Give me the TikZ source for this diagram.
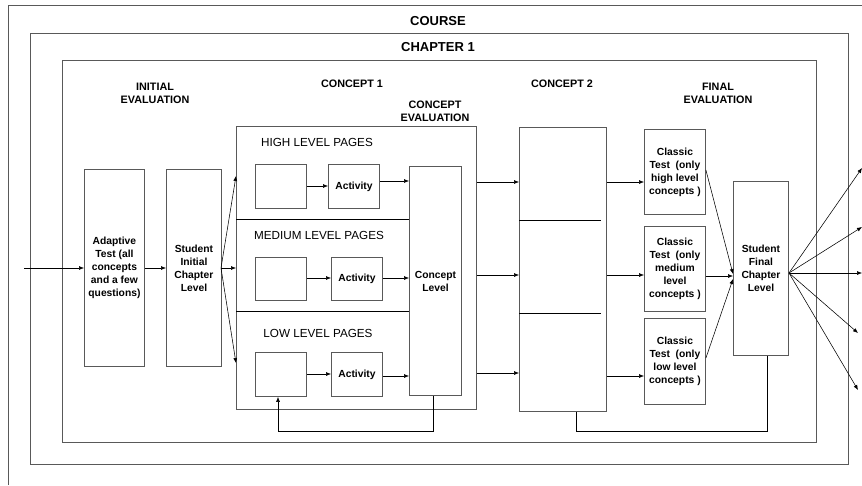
\documentclass[tikz,border=0pt]{standalone}
\usepackage{fontspec}
\setmainfont{Liberation Sans}
\usetikzlibrary{arrows.meta}
\tikzset{
  frame/.style={draw=black!65, line width=0.9pt},
  box/.style={frame, anchor=north west, inner sep=0pt, align=center,
    font=\fontsize{10.3}{13}\selectfont\bfseries},
  head/.style={font=\fontsize{10.8}{13}\selectfont\bfseries, align=center},
  big/.style={font=\fontsize{13}{14}\selectfont\bfseries},
  pages/.style={font=\fontsize{11.7}{14}\selectfont},
  arr/.style={draw=black, line width=0.55pt, -{Latex[length=5pt,width=4pt]}},
  ln/.style={draw=black, line width=0.6pt},
}
\begin{document}
\begin{tikzpicture}[x=1pt,y=-1pt]
\useasboundingbox (0,0) rectangle (862,485);
% course frame (clipped)
\draw[frame] (8,485) -- (8,5) -- (862,5);
\node[big] (course) at (438,21) {COURSE};
% chapter frame
\node[frame, anchor=north west, minimum width=818pt, minimum height=431pt, inner sep=0pt] (chapter) at (30,33) {};
\node[big] (ch1) at (438,47) {CHAPTER 1};
\node[frame, anchor=north west, minimum width=754pt, minimum height=382pt, inner sep=0pt] (inner) at (62,60) {};
% headings
\node[head] (hinit) at (155,93) {INITIAL\\EVALUATION};
\node[head] (hc1) at (352,84) {CONCEPT 1};
\node[head] (hce) at (435,111) {CONCEPT\\EVALUATION};
\node[head] (hc2) at (562,84) {CONCEPT 2};
\node[head] (hfin) at (718,93) {FINAL\\EVALUATION};
% initial evaluation
\node[box, minimum width=60pt, minimum height=197pt] (adapt) at (84,169) {Adaptive\\Test (all\\concepts\\and a few\\questions)};
\node[box, minimum width=55pt, minimum height=197pt] (sinit) at (166,169) {Student\\Initial\\Chapter\\Level};
% concept 1
\node[frame, anchor=north west, minimum width=240pt, minimum height=283pt, inner sep=0pt] (c1) at (236,126) {};
\node[box, minimum width=52pt, minimum height=229pt] (clev) at (409,166) {Concept\\Level};
\draw[ln] (c1.west |- 0,219) -- (clev.west |- 0,219);
\draw[ln] (c1.west |- 0,311) -- (clev.west |- 0,311);
\node[pages] (tHigh) at (317,142) {HIGH LEVEL PAGES};
\node[pages] (tMed) at (319,235) {MEDIUM LEVEL PAGES};
\node[pages] (tLow) at (318,333) {LOW LEVEL PAGES};
\node[box, minimum width=51pt, minimum height=44pt] (hbox) at (255,164) {};
\node[box, minimum width=51pt, minimum height=44pt] (hact) at (328,164) {Activity};
\node[box, minimum width=51pt, minimum height=43pt] (mbox) at (255,257) {};
\node[box, minimum width=51pt, minimum height=43pt] (mact) at (331,257) {Activity};
\node[box, minimum width=51pt, minimum height=44pt] (lbox) at (255,352) {};
\node[box, minimum width=51pt, minimum height=44pt] (lact) at (331,352) {Activity};
% concept 2
\node[frame, anchor=north west, minimum width=87pt, minimum height=284pt, inner sep=0pt] (c2) at (519,127) {};
\draw[ln] (c2.west |- 0,220) -- (601,220);
\draw[ln] (c2.west |- 0,313) -- (601,313);
% final evaluation
\node[box, minimum width=61pt, minimum height=85pt] (cth) at (644,129) {Classic\\Test~ (only\\high level\\concepts )};
\node[box, minimum width=61pt, minimum height=85pt] (ctm) at (644,226) {Classic\\Test~ (only\\medium\\level\\concepts )};
\node[box, minimum width=61pt, minimum height=86pt] (ctl) at (644,318) {Classic\\Test~ (only\\low level\\concepts )};
\node[box, minimum width=55pt, minimum height=174pt] (sfin) at (733,181) {Student\\Final\\Chapter\\Level};
% connectors
\coordinate (in) at (24,268);
\draw[arr] (in) -- (adapt.west |- in);
\draw[arr] (adapt.east |- 0,268) -- (sinit.west |- 0,268);
\coordinate (sx) at (221,268);
\draw[arr] (sx) -- (c1.west |- 0,176);
\draw[arr] (sx) -- (c1.west |- 0,268);
\draw[arr] (sx) -- (c1.west |- 0,363);
\draw[arr] (hbox.east |- 0,186) -- (hact.west |- 0,186);
\draw[arr] (mbox.east |- 0,278) -- (mact.west |- 0,278);
\draw[arr] (lbox.east |- 0,374) -- (lact.west |- 0,374);
\draw[arr] (hact.east |- 0,181) -- (clev.west |- 0,181);
\draw[arr] (mact.east |- 0,278) -- (clev.west |- 0,278);
\draw[arr] (lact.east |- 0,376) -- (clev.west |- 0,376);
\draw[arr] (c1.east |- 0,182) -- (c2.west |- 0,182);
\draw[arr] (c1.east |- 0,275) -- (c2.west |- 0,275);
\draw[arr] (c1.east |- 0,373) -- (c2.west |- 0,373);
\draw[arr] (c2.east |- 0,182) -- (cth.west |- 0,182);
\draw[arr] (c2.east |- 0,275) -- (ctm.west |- 0,275);
\draw[arr] (c2.east |- 0,376) -- (ctl.west |- 0,376);
\draw[arr] (cth.east |- 0,170) -- (sfin.west |- 0,274);
\draw[arr] (ctm.east |- 0,276) -- (sfin.west |- 0,276);
\draw[arr] (ctl.east |- 0,358) -- (sfin.west |- 0,279);
\coordinate (so) at (789,273);
\coordinate (o1) at (862,168);
\coordinate (o2) at (862,227);
\coordinate (o3) at (862,273);
\coordinate (o4) at (858,333);
\coordinate (o5) at (858,390);
\foreach \o in {o1,o2,o3,o4,o5} \draw[arr] (so) -- (\o);
% feedback loops
\draw[arr] (clev.south -| 433,0) -- (433,431) -- (278,431) -- (lbox.south -| 278,0);
\draw[ln] (c2.south -| 576,0) -- (576,431) -- (767,431) -- (sfin.south -| 767,0);
\end{tikzpicture}
\end{document}
